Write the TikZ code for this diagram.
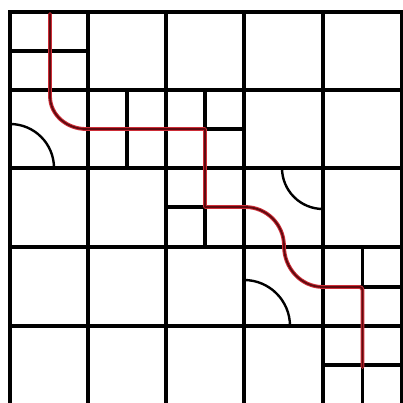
\documentclass[tikz,border=0pt]{standalone}
\begin{document}
\begin{tikzpicture}[x=1pt,y=-1pt,
  gridline/.style={line width=3.6pt,black,line cap=rect},
  subline/.style={line width=3.2pt,black},
  arcline/.style={line width=2.4pt,black},
  pathouter/.style={line width=3.8pt,draw={rgb,255:red,205;green,45;blue,55},line cap=round,line join=round},
  pathinner/.style={line width=1.8pt,draw={rgb,255:red,95;green,10;blue,15},line cap=round,line join=round}]
\useasboundingbox[fill=white] (0,0) rectangle (403,403);
% main grid
\foreach \x in {10,88,166,244,323,402} \draw[gridline] (\x,12) -- (\x,405);
\foreach \y in {12,90,168,247,326,405} \draw[gridline] (10,\y) -- (402,\y);
% subdivisions
\draw[subline] (50,12) -- (50,90) (10,51) -- (88,51);
\draw[subline] (127,90) -- (127,168) (88,129) -- (166,129);
\draw[subline] (205,90) -- (205,168) (166,129) -- (244,129);
\draw[subline] (205,168) -- (205,247) (166,207) -- (244,207);
\draw[subline] (362.5,247) -- (362.5,326) (323,287) -- (402,287);
\draw[subline] (362.5,326) -- (362.5,405) (323,365) -- (402,365);
% arcs
\draw[arcline] (10,124) arc[start angle=90,end angle=0,x radius=44,y radius=-44];
\draw[arcline] (282,168) arc[start angle=180,end angle=270,x radius=41,y radius=-41];
\draw[arcline] (244,280) arc[start angle=90,end angle=0,x radius=46,y radius=-46];
% red path
\def\redpath{(50,14) -- (50,96) to[out=-90,in=180] (86,129) -- (205,129) -- (205,207) -- (245,207)
  to[out=0,in=90] (284,246) to[out=-90,in=180] (323,287) [rounded corners=3pt] -- (362.5,287) -- (362.5,367)}
\draw[pathouter] \redpath;
\draw[pathinner] \redpath;
\end{tikzpicture}
\end{document}
